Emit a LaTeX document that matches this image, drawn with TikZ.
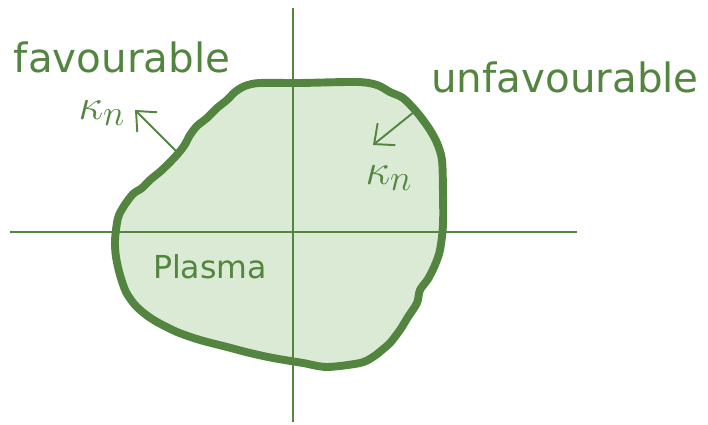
\documentclass[tikz,border=0pt]{standalone}
\usepackage{fontspec}
\setmainfont{DejaVu Sans}
\usetikzlibrary{arrows.meta}
\definecolor{plasmagreen}{RGB}{83,133,64}
\definecolor{plasmafill}{RGB}{218,234,212}
\begin{document}
\begin{tikzpicture}[
    x=0.02cm, y=-0.02cm,
    myaxis/.style={plasmagreen, line width=1.1pt},
    myedge/.style={plasmagreen, line width=4.5pt, line join=round},
    myarrow/.style={-{Straight Barb[length=9pt, width=16pt]}, plasmagreen, line width=1.1pt},
    mylabel/.style={text=plasmagreen, font=\fontsize{23}{28}\selectfont, anchor=base},
    mykappa/.style={text=plasmagreen, font=\fontsize{24.88}{30}\selectfont}
]
    \useasboundingbox (0,0) rectangle (708,425);

    % Plasma cross-section (fill)
    \def\plasmaedge{(115,240) (118,218) (124,206) (133,194) (142,188) (150,180)
        (162,170) (175,157) (184,146) (190,135) (197,126) (207,118) (217,108)
        (227,100) (235,92) (245,86) (260,83) (300,83) (357,82) (377,85) (390,92)
        (403,98) (415,110) (423,120) (430,130) (437,143) (442,160) (443,193)
        (443,225) (440,250) (435,265) (428,279) (420,290) (417,303) (408,317)
        (400,330) (390,343) (382,350) (373,357) (360,363) (327,367) (303,363)
        (273,358) (250,353) (227,347) (200,340) (177,332) (157,322) (145,314)
        (135,305) (126,292) (120,275) (116,257)}
    \fill[plasmafill] plot[smooth cycle, tension=0.5] coordinates {\plasmaedge};

    % Coordinate axes
    \draw[myaxis] (293,8) -- (293,422);
    \draw[myaxis] (10,232) -- (577,232);

    % Plasma boundary
    \draw[myedge] plot[smooth cycle, tension=0.5] coordinates {\plasmaedge};

    % Labels
    \node[mylabel] (fav) at (122,73) {favourable};
    \node[mylabel] (unfav) at (565,93) {unfavourable};
    \node[mylabel, font=\fontsize{18}{22}\selectfont] (plasma) at (210,279) {Plasma};

    % Curvature vectors
    \coordinate (favfoot) at (177,152);
    \coordinate (unfavfoot) at (414,112);
    \node[mykappa] (kfav) at (102,113) {$\kappa_n$};
    \node[mykappa] (kunfav) at (389,178) {$\kappa_n$};
    \coordinate (favtip) at (135,110);
    \coordinate (unfavtip) at (373,145);
    \draw[myarrow] (favfoot) -- (favtip);
    \draw[myarrow] (unfavfoot) -- (unfavtip);
\end{tikzpicture}
\end{document}
